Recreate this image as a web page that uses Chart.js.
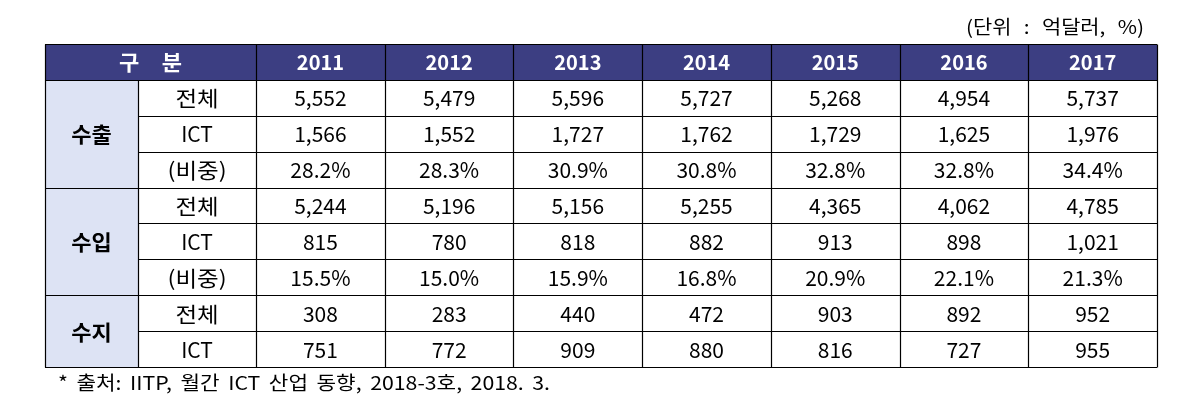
<!DOCTYPE html>
<html><head><meta charset="utf-8">
<script src="https://cdn.jsdelivr.net/npm/chart.js@4/dist/chart.umd.min.js"></script>
<style>html,body{margin:0;padding:0;background:#fff}#wrap{width:1186px;height:412px;position:relative}</style>
</head><body><div id="wrap"><canvas id="c"></canvas></div>
<script>
// ---- data ----
const years = ['2011','2012','2013','2014','2015','2016','2017'];
const groups = ['수출','수입','수지'];
const groupRows = [3,3,2];
const rowLabels = ['전체','ICT','(비중)','전체','ICT','(비중)','전체','ICT'];
const exportTotal = [5552,5479,5596,5727,5268,4954,5737];
const exportICT = [1566,1552,1727,1762,1729,1625,1976];
const exportShare = [28.2,28.3,30.9,30.8,32.8,32.8,34.4];
const importTotal = [5244,5196,5156,5255,4365,4062,4785];
const importICT = [815,780,818,882,913,898,1021];
const importShare = [15.5,15.0,15.9,16.8,20.9,22.1,21.3];
const balanceTotal = [308,283,440,472,903,892,952];
const balanceICT = [751,772,909,880,816,727,955];
const headerLabel = '구 분';
const unitNote = '(단위 : 억달러, %)';
const sourceNote = '* 출처: IITP, 월간 ICT 산업 동향, 2018-3호, 2018. 3.';

// ---- table built from arrays ----
const rows = [
  {vals: exportTotal, pct:false}, {vals: exportICT, pct:false}, {vals: exportShare, pct:true},
  {vals: importTotal, pct:false}, {vals: importICT, pct:false}, {vals: importShare, pct:true},
  {vals: balanceTotal, pct:false}, {vals: balanceICT, pct:false}
];
const fmt = (v, pct) => pct ? v.toFixed(1) + '%' : v.toLocaleString('en-US');

// column layout in x-scale units (year column = 1 unit)
const GROUP_W = 0.723, LABEL_W = 0.917;
const colEdges = [0, GROUP_W, GROUP_W + LABEL_W];
years.forEach((_, i) => colEdges.push(GROUP_W + LABEL_W + i + 1));
const X_MAX = colEdges[colEdges.length - 1];

const yCats = ['head'].concat(rowLabels.map((_, i) => 'r' + i));
const headerBar = yCats.map((c, i) => i === 0 ? [0, X_MAX] : null);
const groupBar = yCats.map((c, i) => i === 0 ? null : [0, GROUP_W]);

const FONT = '"Noto Sans CJK KR", "Noto Sans", sans-serif';

// draw text stretched (glyph scale capped) and word-spread to span `width` px
function spreadText(ctx, text, x, y, width, align, maxScale) {
  const words = text.split(' ');
  const ws = words.map(w => ctx.measureText(w).width);
  const sp = ctx.measureText(' ').width;
  const natural = ws.reduce((a, b) => a + b, 0) + sp * (words.length - 1);
  const s = Math.min(width / natural, maxScale || 1.1);
  const sum = ws.reduce((a, b) => a + b, 0) * s;
  const gap = words.length > 1 ? (width - sum) / (words.length - 1) : 0;
  let cx = align === 'right' ? x - width : (align === 'center' ? x - width / 2 : x);
  const saved = ctx.textAlign;
  ctx.textAlign = 'left';
  words.forEach((w, i) => {
    ctx.save(); ctx.translate(cx, y); ctx.scale(s, 1); ctx.fillText(w, 0, 0); ctx.restore();
    cx += ws[i] * s + gap;
  });
  ctx.textAlign = saved;
}
function stretchCenter(ctx, text, x, y, s) {
  ctx.save(); ctx.translate(x, y); ctx.scale(s, 1); ctx.fillText(text, 0, 0); ctx.restore();
}

const tablePlugin = {
  id: 'tablePlugin',
  afterDatasetsDraw(chart) {
    const {ctx} = chart;
    const xs = chart.scales.x, ys = chart.scales.y;
    const X = v => xs.getPixelForValue(v);
    const nR = yCats.length;
    const rowH = (ys.bottom - ys.top) / nR;
    const rowTop = i => ys.getPixelForValue(i) - rowH / 2;
    const rowMid = i => ys.getPixelForValue(i) + 0.5;
    const snap = p => Math.round(p) + 0.5;

    ctx.save();
    ctx.strokeStyle = '#000';
    ctx.lineWidth = 1.2;
    const groupStarts = [1];
    groupRows.forEach(n => groupStarts.push(groupStarts[groupStarts.length - 1] + n));
    for (let k = 0; k <= nR; k++) {
      const y = snap(k === nR ? ys.bottom : rowTop(k));
      let x0 = X(0);
      if (k > 1 && k < nR && groupStarts.indexOf(k) < 0) x0 = X(GROUP_W);
      ctx.beginPath(); ctx.moveTo(x0, y); ctx.lineTo(X(X_MAX), y); ctx.stroke();
    }
    colEdges.forEach((e, ci) => {
      const x = snap(X(e));
      const yTop = (ci === 1) ? rowTop(1) : ys.top;
      ctx.beginPath(); ctx.moveTo(x, snap(yTop)); ctx.lineTo(x, snap(ys.bottom)); ctx.stroke();
    });

    ctx.textAlign = 'center';
    ctx.textBaseline = 'middle';
    // header
    ctx.fillStyle = '#fff';
    ctx.font = 'bold 21px ' + FONT;
    spreadText(ctx, headerLabel, (X(0) + X(colEdges[2])) / 2, rowMid(0), 63, 'center', 1.05);
    ctx.font = 'bold 20px ' + FONT;
    years.forEach((yr, i) => ctx.fillText(yr, (X(colEdges[2 + i]) + X(colEdges[3 + i])) / 2, rowMid(0)));
    // group labels
    ctx.fillStyle = '#000';
    ctx.font = 'bold 21px ' + FONT;
    groups.forEach((g, gi) => {
      const a = groupStarts[gi], b = groupStarts[gi + 1];
      const ym = (rowTop(a) + (b >= nR ? ys.bottom : rowTop(b))) / 2 + 0.5;
      stretchCenter(ctx, g, (X(0) + X(GROUP_W)) / 2, ym, 1.05);
    });
    // row labels and values
    ctx.font = '21px ' + FONT;
    rowLabels.forEach((lab, r) => {
      const ym = rowMid(r + 1);
      stretchCenter(ctx, lab, (X(colEdges[1]) + X(colEdges[2])) / 2, ym, /[가-힣]/.test(lab) ? 1.12 : 1);
      rows[r].vals.forEach((v, i) => {
        ctx.fillText(fmt(v, rows[r].pct), (X(colEdges[2 + i]) + X(colEdges[3 + i])) / 2, ym);
      });
    });
    // notes
    ctx.font = '19px ' + FONT;
    spreadText(ctx, unitNote, 1144, 27, 178, 'right', 1.1);
    spreadText(ctx, sourceNote, 58, 383, 492, 'left', 1.12);
    ctx.restore();
  }
};

new Chart(document.getElementById('c'), {
  type: 'bar',
  data: {
    labels: yCats,
    datasets: [
      {data: headerBar, backgroundColor: '#3c3e82', grouped: false, barPercentage: 1, categoryPercentage: 1, borderWidth: 0},
      {data: groupBar, backgroundColor: '#dde3f4', grouped: false, barPercentage: 1, categoryPercentage: 1, borderWidth: 0}
    ]
  },
  options: {
    indexAxis: 'y',
    responsive: true,
    maintainAspectRatio: false,
    animation: false,
    layout: {padding: {left: 45, right: 29, top: 44, bottom: 45}},
    plugins: {legend: {display: false}, tooltip: {enabled: false}},
    scales: {
      x: {type: 'linear', min: 0, max: X_MAX, display: false},
      y: {type: 'category', display: false, offset: true}
    }
  },
  plugins: [tablePlugin]
});
</script>
</body></html>
